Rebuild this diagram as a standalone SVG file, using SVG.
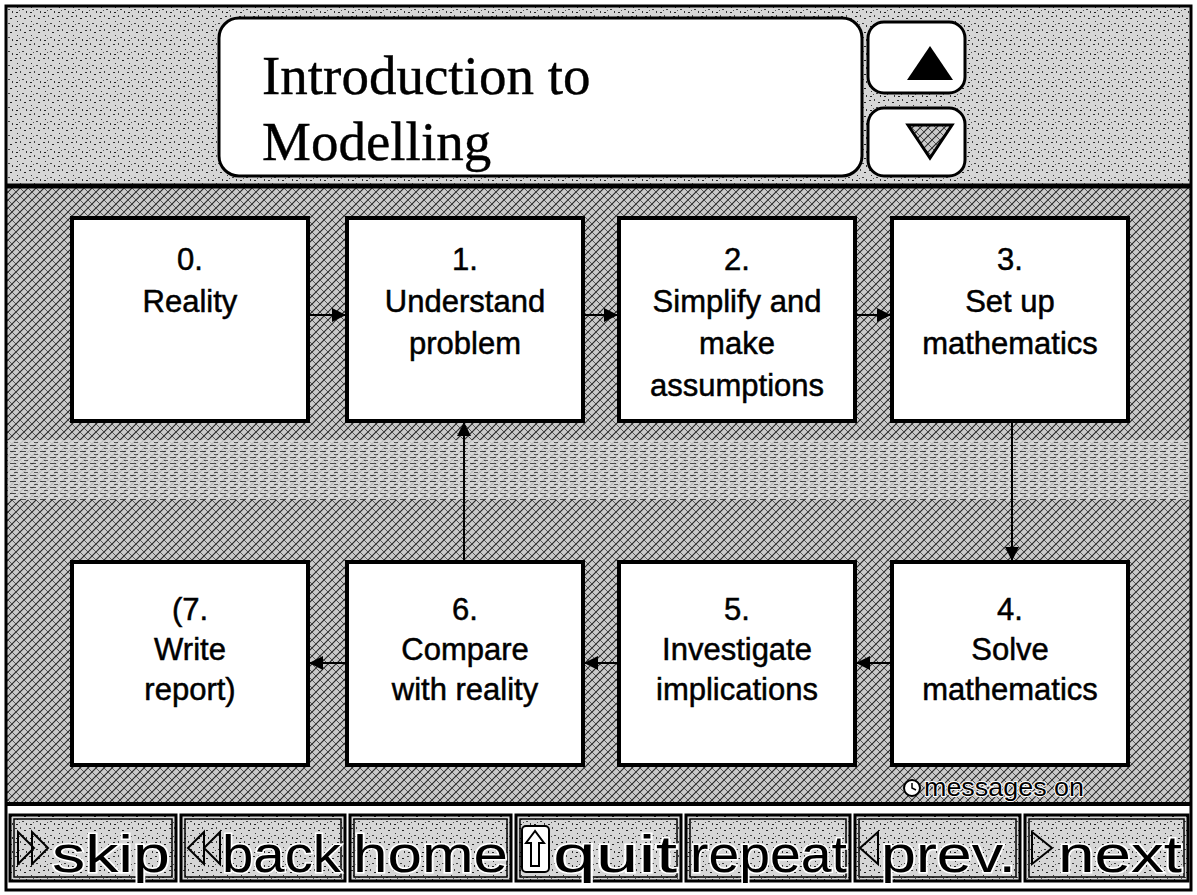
<svg xmlns="http://www.w3.org/2000/svg" width="1197" height="895" viewBox="0 0 1197 895">
<defs>
<pattern id="speck" width="14" height="14" patternUnits="userSpaceOnUse">
<rect width="14" height="14" fill="#d6d6d6"/>
<rect x="1" y="2" width="2" height="1" fill="#333"/>
<rect x="6" y="1" width="1" height="2" fill="#444"/>
<rect x="10" y="4" width="2" height="1" fill="#222"/>
<rect x="3" y="7" width="1" height="1" fill="#333"/>
<rect x="8" y="9" width="2" height="1" fill="#444"/>
<rect x="12" y="11" width="1" height="2" fill="#333"/>
<rect x="2" y="12" width="2" height="1" fill="#222"/>
<rect x="5" y="10" width="1" height="1" fill="#555"/>
</pattern>
<pattern id="hatch" width="8" height="8" patternUnits="userSpaceOnUse">
<rect width="8" height="8" fill="#cacaca"/>
<path d="M0,8 L8,0 M-2,2 L2,-2 M6,10 L10,6" stroke="#2a2a2a" stroke-width="1.2"/>
<path d="M0,0 L8,8" stroke="#4a4a4a" stroke-width="0.9"/>
</pattern>
<pattern id="band" width="10" height="6" patternUnits="userSpaceOnUse">
<rect width="10" height="6" fill="#d8d8d8"/>
<rect x="0" y="1" width="6" height="1" fill="#333"/>
<rect x="4" y="4" width="4" height="1" fill="#444"/>
</pattern>
<marker id="arr" viewBox="0 0 14 14" refX="13" refY="7" markerWidth="14" markerHeight="14" markerUnits="userSpaceOnUse" orient="auto">
<path d="M0,0 L14,7 L0,14 Z" fill="#000"/>
</marker>
<style>
.box{fill:#fff;stroke:#000;stroke-width:4}
.lbl{font-family:"Liberation Sans",Arial,sans-serif;font-size:31px;fill:#000;stroke:#000;stroke-width:0.5;text-anchor:middle}
.btn{fill:url(#speck);stroke:#000;stroke-width:3}
.btn2{fill:none;stroke:#000;stroke-width:1.5}
.btxt{font-family:"Liberation Sans",Arial,sans-serif;font-size:52px;fill:#000;stroke:#fff;stroke-width:3;paint-order:stroke}
.conn{stroke:#000;stroke-width:2;fill:none;marker-end:url(#arr)}
.ico{fill:none;stroke:#000;stroke-width:2}
.ttl{font-family:"Liberation Serif","Times New Roman",serif;font-size:55px;fill:#000;stroke:#000;stroke-width:0.4}
</style>
</defs>

<!-- backgrounds -->
<rect x="0" y="0" width="1197" height="895" fill="#fff"/>
<rect x="6" y="6" width="1185" height="180" fill="url(#speck)"/>
<rect x="6" y="186" width="1185" height="618" fill="url(#hatch)"/>
<rect x="6" y="440" width="1185" height="60" fill="url(#band)" opacity="0.85"/>
<rect x="6" y="804" width="1185" height="86" fill="#fff"/>
<rect x="6" y="6" width="1185" height="884" fill="none" stroke="#000" stroke-width="3"/>
<line x1="6" y1="186" x2="1191" y2="186" stroke="#000" stroke-width="5"/>
<line x1="6" y1="804" x2="1191" y2="804" stroke="#000" stroke-width="4"/>

<!-- header -->
<g id="title">
<rect x="219" y="18" width="643" height="158" rx="20" fill="#fff" stroke="#000" stroke-width="3"/>
<text class="ttl" x="262" y="94">Introduction to</text>
<text class="ttl" x="262" y="160">Modelling</text>
</g>
<g id="btn-up">
<rect x="868" y="22" width="97" height="71" rx="16" fill="#fff" stroke="#000" stroke-width="3"/>
<path d="M930,46 L953,80 L907,80 Z" fill="#000"/>
</g>
<g id="btn-down">
<rect x="868" y="108" width="97" height="68" rx="16" fill="#fff" stroke="#000" stroke-width="3"/>
<path d="M908,125 L952,125 L930,158 Z" fill="url(#hatch)" stroke="#000" stroke-width="3"/>
</g>

<!-- nodes -->
<g id="n0"><rect class="box" x="72" y="218" width="236" height="203"/>
<text class="lbl" x="190" y="270">0.</text><text class="lbl" x="190" y="312">Reality</text></g>
<g id="n1"><rect class="box" x="347" y="218" width="236" height="203"/>
<text class="lbl" x="465" y="270">1.</text><text class="lbl" x="465" y="312">Understand</text><text class="lbl" x="465" y="354">problem</text></g>
<g id="n2"><rect class="box" x="619" y="218" width="236" height="203"/>
<text class="lbl" x="737" y="270">2.</text><text class="lbl" x="737" y="312">Simplify and</text><text class="lbl" x="737" y="354">make</text><text class="lbl" x="737" y="396">assumptions</text></g>
<g id="n3"><rect class="box" x="892" y="218" width="236" height="203"/>
<text class="lbl" x="1010" y="270">3.</text><text class="lbl" x="1010" y="312">Set up</text><text class="lbl" x="1010" y="354">mathematics</text></g>
<g id="n4"><rect class="box" x="892" y="562" width="236" height="203"/>
<text class="lbl" x="1010" y="620">4.</text><text class="lbl" x="1010" y="660">Solve</text><text class="lbl" x="1010" y="700">mathematics</text></g>
<g id="n5"><rect class="box" x="619" y="562" width="236" height="203"/>
<text class="lbl" x="737" y="620">5.</text><text class="lbl" x="737" y="660">Investigate</text><text class="lbl" x="737" y="700">implications</text></g>
<g id="n6"><rect class="box" x="347" y="562" width="236" height="203"/>
<text class="lbl" x="465" y="620">6.</text><text class="lbl" x="465" y="660">Compare</text><text class="lbl" x="465" y="700">with reality</text></g>
<g id="n7"><rect class="box" x="72" y="562" width="236" height="203"/>
<text class="lbl" x="190" y="620">(7.</text><text class="lbl" x="190" y="660">Write</text><text class="lbl" x="190" y="700">report)</text></g>

<!-- connectors -->
<g id="connectors">
<line class="conn" x1="310" y1="315" x2="345" y2="315"/>
<line class="conn" x1="585" y1="315" x2="617" y2="315"/>
<line class="conn" x1="857" y1="315" x2="890" y2="315"/>
<line class="conn" x1="1012" y1="423" x2="1012" y2="560"/>
<line class="conn" x1="890" y1="663" x2="857" y2="663"/>
<line class="conn" x1="617" y1="663" x2="585" y2="663"/>
<line class="conn" x1="345" y1="663" x2="310" y2="663"/>
<line class="conn" x1="464" y1="560" x2="464" y2="423"/>
</g>

<!-- messages on -->
<g id="messages">
<circle cx="912" cy="788" r="8" fill="#fff" stroke="#000" stroke-width="2"/>
<path d="M912,783 L912,788 L916,790" stroke="#000" stroke-width="1.5" fill="none"/>
<text x="924" y="796" font-family="'Liberation Sans',Arial,sans-serif" font-size="25" fill="#000" stroke="#fff" stroke-width="2" paint-order="stroke" textLength="160" lengthAdjust="spacingAndGlyphs">messages on</text>
</g>

<!-- bottom buttons -->
<g id="b-skip"><rect class="btn" x="10" y="815" width="166" height="66"/><rect class="btn2" x="14" y="819" width="158" height="58"/>
<path class="ico" d="M18,832 L34,848 L18,864 Z M32,832 L48,848 L32,864 Z"/>
<text class="btxt" x="52" y="872" textLength="118" lengthAdjust="spacingAndGlyphs">skip</text></g>
<g id="b-back"><rect class="btn" x="181" y="815" width="164" height="66"/><rect class="btn2" x="185" y="819" width="156" height="58"/>
<path class="ico" d="M204,832 L188,848 L204,864 Z M220,832 L204,848 L220,864 Z"/>
<text class="btxt" x="222" y="872" textLength="119" lengthAdjust="spacingAndGlyphs">back</text></g>
<g id="b-home"><rect class="btn" x="350" y="815" width="161" height="66"/><rect class="btn2" x="354" y="819" width="153" height="58"/>
<text class="btxt" x="353" y="872" textLength="155" lengthAdjust="spacingAndGlyphs">home</text></g>
<g id="b-quit"><rect class="btn" x="516" y="815" width="165" height="66"/><rect class="btn2" x="520" y="819" width="157" height="58"/>
<rect x="522" y="826" width="27" height="46" rx="4" fill="#fff" stroke="#000" stroke-width="2"/>
<path d="M535,831 L526,843 L531,843 L531,866 L539,866 L539,843 L544,843 Z" fill="#fff" stroke="#000" stroke-width="2"/>
<text class="btxt" x="553" y="872" textLength="124" lengthAdjust="spacingAndGlyphs">quit</text></g>
<g id="b-repeat"><rect class="btn" x="686" y="815" width="164" height="66"/><rect class="btn2" x="690" y="819" width="156" height="58"/>
<text class="btxt" x="690" y="872" textLength="157" lengthAdjust="spacingAndGlyphs">repeat</text></g>
<g id="b-prev"><rect class="btn" x="855" y="815" width="165" height="66"/><rect class="btn2" x="859" y="819" width="157" height="58"/>
<path class="ico" d="M878,832 L860,848 L878,864 Z"/>
<text class="btxt" x="881" y="872" textLength="135" lengthAdjust="spacingAndGlyphs">prev.</text></g>
<g id="b-next"><rect class="btn" x="1025" y="815" width="163" height="66"/><rect class="btn2" x="1029" y="819" width="155" height="58"/>
<path class="ico" d="M1032,832 L1052,848 L1032,864 Z"/>
<text class="btxt" x="1058" y="872" textLength="124" lengthAdjust="spacingAndGlyphs">next</text></g>
</svg>
